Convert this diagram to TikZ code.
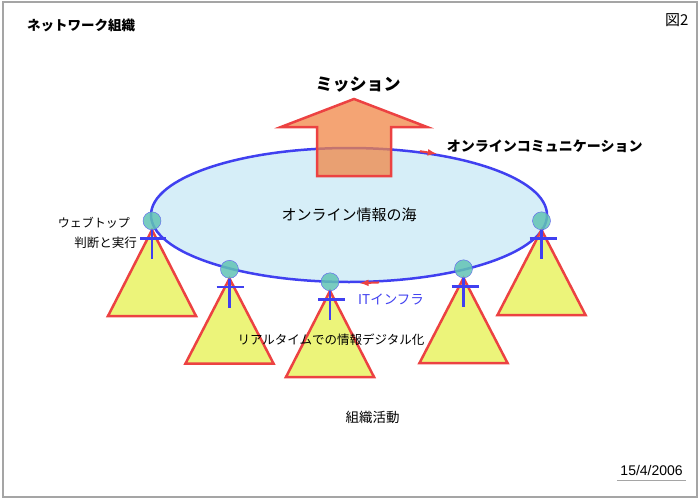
\documentclass[tikz,border=0pt]{standalone}
\usepackage{fontspec}
\setmainfont{Liberation Sans}
\newfontfamily\jp{Noto Sans CJK JP}
\usepackage{tikz}
\usetikzlibrary{positioning,calc,shapes}
\definecolor{seablue}{RGB}{214,238,248}
\definecolor{rimblue}{RGB}{64,64,240}
\definecolor{myorange}{RGB}{240,134,70}
\definecolor{myred}{RGB}{236,66,66}
\definecolor{myyellow}{RGB}{236,244,122}
\definecolor{myteal}{RGB}{98,195,181}
\definecolor{framegray}{RGB}{165,165,165}
\newcommand*\jpsize[1]{\jp\fontsize{#1}{#1}\selectfont}
\tikzstyle{sea}=[ellipse,draw=rimblue,fill=seablue,line width=2.5pt,minimum width=396pt,minimum height=134pt]
\tikzstyle{mission}=[draw=myred,fill=myorange,fill opacity=0.75,line width=2.5pt,line join=miter]
\tikzstyle{unit}=[draw=myred,fill=myyellow,line width=2.5pt]
\tikzstyle{head}=[circle,draw=rimblue!85,fill=myteal,fill opacity=0.85,minimum size=18pt,inner sep=0pt,thin]
\tikzstyle{limb}=[draw=rimblue,line width=2.5pt]
\tikzstyle{arr}=[-latex,myred,line width=2pt]

\begin{document}
\begin{tikzpicture}[x=1pt,y=-1pt]
      \useasboundingbox (0,0) rectangle (700,500);
      \draw[framegray,line width=2pt] (3,2) rectangle (697,497);
      \node (title) [anchor=west] at (23.7,25) {\jpsize{13.5}\bfseries ネットワーク組織};
      \node (fig) [anchor=east] at (692,20) {\jpsize{15}図2};
      \node (sea) [sea] at (349,215) {\jpsize{15}オンライン情報の海};
      \draw[mission] (354,99) -- (427,127) -- (391,127) -- (391,176) -- (317,176) -- (317,127) -- (281,127) -- cycle;
      \node (mis) at (358,85) {\jpsize{17}\bfseries ミッション};
      \node (comm) [anchor=west] at (443.4,146) {\jpsize{14}\bfseries オンラインコミュニケーション};
      \draw[arr] (sea.42) -- (sea.35);
      % the five members
      \coordinate (p1) at (152,230);
      \coordinate (p2) at (229.5,278.5);
      \coordinate (p3) at (330,291);
      \coordinate (p4) at (463.5,278);
      \coordinate (p5) at (541.5,230);
      \draw[unit] (p1) -- ++(-44,86) -- ++(88,0) -- cycle;
      \draw[unit] (p2) -- ++(-44,85) -- ++(88,0) -- cycle;
      \draw[unit] (p3) -- ++(-44,86) -- ++(88,0) -- cycle;
      \draw[unit] (p4) -- ++(-44,85) -- ++(88,0) -- cycle;
      \draw[unit] (p5) -- ++(-44,85) -- ++(88,0) -- cycle;
      \node (h1) [head, above=0pt of p1] {};
      \node (h2) [head, above=0pt of p2] {};
      \node (h3) [head, above=0pt of p3] {};
      \node (h4) [head, above=0pt of p4] {};
      \node (h5) [head, above=0pt of p5] {};
      \draw[limb] (h1.south) -- ++(0,29);
      \draw[limb] ($(h1.center)+(-12,17.5)$) -- ++(26,0);
      \draw[limb] (h2.south) -- ++(0,29);
      \draw[limb] ($(h2.center)+(-13,17.5)$) -- ++(27,0);
      \draw[limb] (h3.south) -- ++(0,29);
      \draw[limb] ($(h3.center)+(-12,17.5)$) -- ++(27,0);
      \draw[limb] (h4.south) -- ++(0,29);
      \draw[limb] ($(h4.center)+(-12,17.5)$) -- ++(27,0);
      \draw[limb] (h5.south) -- ++(0,29);
      \draw[limb] ($(h5.center)+(-12,17.5)$) -- ++(27,0);
      \node (web) [anchor=east] at (133.5,223) {\jpsize{12}ウェブトップ};
      \node (judge) [anchor=east] at (140.5,243) {\jpsize{12.5}判断と実行};
      \node (infra) [anchor=west, text=rimblue] at (354.7,299) {\jpsize{13.5}ITインフラ};
      \draw[arr] (sea.-66) -- (sea.-81);
      \node (digi) at (331,340) {\jpsize{12.5}リアルタイムでの情報デジタル化};
      \node (act) at (372.5,417) {\jpsize{13.5}組織活動};
      \node (date) [anchor=east] at (686.3,470) {\fontsize{14}{14}\selectfont 15/4/2006};
      \draw[framegray,line width=1.5pt] ([yshift=-2pt]date.south west) -- ([yshift=-2pt]date.south east);
    \end{tikzpicture}
\end{document}
